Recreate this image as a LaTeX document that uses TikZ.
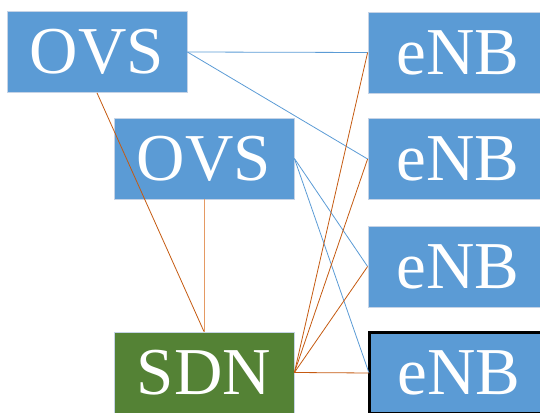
\documentclass[tikz,border=0pt]{standalone}
\usepackage{fontspec}
\setmainfont{Liberation Serif}
\definecolor{boxblue}{HTML}{5B9BD5}
\definecolor{boxgreen}{HTML}{548235}
\definecolor{edgelight}{HTML}{C5D3E6}
\definecolor{linkblue}{HTML}{5B9BD5}
\definecolor{linkorange}{HTML}{C55A11}
\definecolor{linklight}{HTML}{E59A63}
\tikzset{
  unit/.style={minimum width=180pt, minimum height=81pt, inner sep=0pt,
    draw=edgelight, line width=0.8pt, text=white,
    font=\fontsize{67}{67}\selectfont},
  switchbox/.style={unit, fill=boxblue},
  basebox/.style={unit, fill=boxblue},
  ctrlbox/.style={unit, fill=boxgreen},
  datalink/.style={draw=linkblue, line width=0.8pt},
  ctrllink/.style={draw=linkorange, line width=0.8pt},
  ctrllinklight/.style={draw=linklight, line width=0.9pt}
}
\begin{document}
\begin{tikzpicture}[x=1pt,y=1pt]
\useasboundingbox (0,0) rectangle (540,412);
\clip (0,0) rectangle (540,412);
% switches and controller
\node[switchbox] (ovsA) at (97,360) {OVS};
\node[switchbox] (ovsB) at (204,253.5) {OVS};
\node[ctrlbox] (sdn) at (204,39.5) {SDN};
% base stations
\node[basebox] (enb1) at (458,359.5) {eNB};
\node[basebox] (enb2) at (458,253) {eNB};
\node[basebox] (enb3) at (458,145.5) {eNB};
\node[basebox, draw=black, line width=3pt] (enb4) at (459,39) {eNB};
% data plane links
\draw[datalink] (ovsA.east) -- (enb1.west);
\draw[datalink] (ovsA.east) -- (enb2.west);
\draw[datalink] (ovsB.east) -- (enb3.west);
\draw[datalink] (ovsB.east) -- ([xshift=1.5pt]enb4.west);
% control links
\draw[ctrllink] (ovsA.south) -- (sdn.north);
\draw[ctrllinklight] (ovsB.south) -- (sdn.north);
\draw[ctrllink] (sdn.east) -- (enb1.west);
\draw[ctrllink] (sdn.east) -- (enb2.west);
\draw[ctrllink] (sdn.east) -- (enb3.west);
\draw[ctrllink] (sdn.east) -- ([xshift=1.5pt]enb4.west);
\end{tikzpicture}
\end{document}
